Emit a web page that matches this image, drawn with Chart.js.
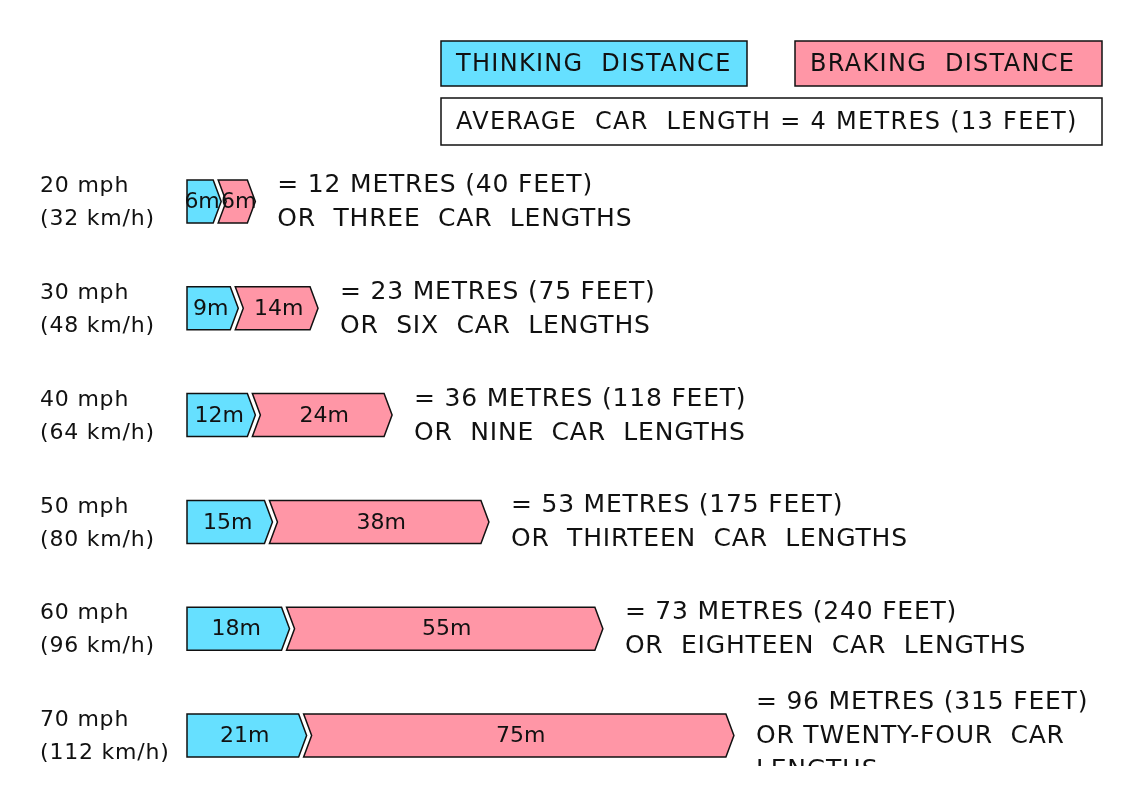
<!DOCTYPE html>
<html>
<head>
<meta charset="utf-8">
<script src="https://cdn.jsdelivr.net/npm/chart.js@4.4.1/dist/chart.umd.min.js"></script>
<style>
  html, body { margin: 0; padding: 0; background: #fff; }
  #wrap { width: 1143px; height: 804px; }
</style>
</head>
<body>
<div id="wrap"><canvas id="stopChart"></canvas></div>
<script>
// Datos: distancias de parada por velocidad
const speedsMph = ['20 mph', '30 mph', '40 mph', '50 mph', '60 mph', '70 mph'];
const speedsKmh = ['(32 km/h)', '(48 km/h)', '(64 km/h)', '(80 km/h)', '(96 km/h)', '(112 km/h)'];
const thinking = [6, 9, 12, 15, 18, 21];
const braking = [6, 14, 24, 38, 55, 75];
const totalText = [
  '= 12 METRES (40 FEET)',
  '= 23 METRES (75 FEET)',
  '= 36 METRES (118 FEET)',
  '= 53 METRES (175 FEET)',
  '= 73 METRES (240 FEET)',
  '= 96 METRES (315 FEET)'
];
const lengthText = [
  ['OR  THREE  CAR  LENGTHS'],
  ['OR  SIX  CAR  LENGTHS'],
  ['OR  NINE  CAR  LENGTHS'],
  ['OR  THIRTEEN  CAR  LENGTHS'],
  ['OR  EIGHTEEN  CAR  LENGTHS'],
  ['OR TWENTY-FOUR  CAR', 'LENGTHS']
];
const carLengthNote = 'AVERAGE  CAR  LENGTH = 4 METRES (13 FEET)';

const CYAN = '#66e0ff';
const PINK = '#ff96a6';
const INK = '#111111';
const FONT = '"DejaVu Sans", sans-serif';

// Plugin que dibuja las barras en forma de flecha y todos los textos
const arrowBars = {
  id: 'arrowBars',
  afterDatasetsDraw(chart) {
    const ctx = chart.ctx;
    const tip = 8, gap = 5;
    const metaT = chart.getDatasetMeta(0);
    const metaB = chart.getDatasetMeta(1);

    ctx.save();
    ctx.lineWidth = 1.5;
    ctx.strokeStyle = INK;
    ctx.lineJoin = 'miter';

    metaT.data.forEach((el, i) => {
      const top = el.y - el.height / 2, bot = el.y + el.height / 2, cy = el.y;
      const x0 = el.base, xe = el.x;
      // pensamiento
      ctx.beginPath();
      ctx.moveTo(x0, top);
      ctx.lineTo(xe - tip, top);
      ctx.lineTo(xe, cy);
      ctx.lineTo(xe - tip, bot);
      ctx.lineTo(x0, bot);
      ctx.closePath();
      ctx.fillStyle = CYAN;
      ctx.fill();
      ctx.stroke();

      // frenado
      const b = metaB.data[i];
      const xs = b.base, xf = b.x;
      ctx.beginPath();
      ctx.moveTo(xs - tip + gap, top);
      ctx.lineTo(xf - tip, top);
      ctx.lineTo(xf, cy);
      ctx.lineTo(xf - tip, bot);
      ctx.lineTo(xs - tip + gap, bot);
      ctx.lineTo(xs + gap, cy);
      ctx.closePath();
      ctx.fillStyle = PINK;
      ctx.fill();
      ctx.stroke();

      // etiquetas dentro de las barras
      ctx.fillStyle = INK;
      ctx.font = '22px ' + FONT;
      ctx.letterSpacing = '0px';
      ctx.textAlign = 'center';
      ctx.textBaseline = 'middle';
      ctx.fillText(thinking[i] + 'm', (x0 + xe - tip / 2) / 2, cy + 1);
      ctx.fillText(braking[i] + 'm', (xs + gap + xf - tip / 2) / 2, cy + 1);

      // velocidad a la izquierda
      ctx.textAlign = 'left';
      ctx.font = '22px ' + FONT;
      ctx.letterSpacing = '0.8px';
      ctx.fillText(speedsMph[i], 40, cy - 15);
      ctx.fillText(speedsKmh[i], 40, cy + 18);

      // texto a la derecha (el último bloque queda cortado por abajo)
      ctx.save();
      ctx.beginPath();
      ctx.rect(0, 0, chart.width, 766);
      ctx.clip();
      ctx.font = '25px ' + FONT;
      ctx.letterSpacing = '0.8px';
      const tx = xf + 22;
      const lines = [totalText[i]].concat(lengthText[i]);
      const y0 = cy + 1 - (lines.length - 1) * 17;
      lines.forEach((line, k) => {
        ctx.fillText(line, tx, y0 + k * 34);
      });
      ctx.restore();
    });

    // leyenda
    const box = (x, y, w, h, fill, text) => {
      ctx.fillStyle = fill;
      ctx.fillRect(x, y, w, h);
      ctx.strokeRect(x, y, w, h);
      ctx.fillStyle = INK;
      ctx.font = '24px ' + FONT;
      ctx.letterSpacing = '1.3px';
      ctx.textAlign = 'left';
      ctx.textBaseline = 'middle';
      ctx.fillText(text, x + 15, y + h / 2 + 1);
    };
    box(441, 41, 306, 45, CYAN, chart.data.datasets[0].label);
    box(795, 41, 307, 45, PINK, chart.data.datasets[1].label);
    box(441, 98, 661, 47, '#ffffff', carLengthNote);
    ctx.restore();
  }
};

new Chart(document.getElementById('stopChart'), {
  type: 'bar',
  data: {
    labels: speedsMph,
    datasets: [
      { label: 'THINKING  DISTANCE', data: thinking, backgroundColor: 'rgba(0,0,0,0)', barThickness: 43 },
      { label: 'BRAKING  DISTANCE', data: braking, backgroundColor: 'rgba(0,0,0,0)', barThickness: 43 }
    ]
  },
  options: {
    indexAxis: 'y',
    responsive: true,
    maintainAspectRatio: false,
    animation: false,
    layout: { padding: { left: 187, right: 16, top: 148, bottom: 15 } },
    plugins: { legend: { display: false }, tooltip: { enabled: false } },
    scales: {
      x: { stacked: true, display: false, min: 0, max: 165 },
      y: { stacked: true, display: false }
    }
  },
  plugins: [arrowBars]
});
</script>
</body>
</html>
